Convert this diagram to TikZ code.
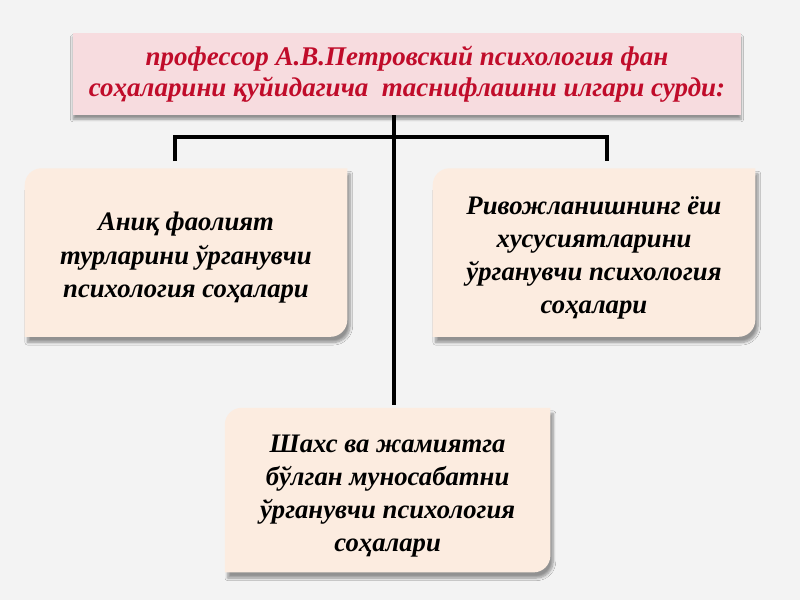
\documentclass[tikz,border=0pt]{standalone}
\usepackage{fontspec}
\setmainfont{Liberation Serif}
\usetikzlibrary{shadows.blur,backgrounds}
\definecolor{bgcol}{RGB}{243,243,243}
\definecolor{titlefill}{RGB}{247,220,223}
\definecolor{titletext}{RGB}{192,12,42}
\definecolor{boxfill}{RGB}{252,236,224}
\tikzset{
  heading/.style={fill=titlefill, minimum width=16.7cm, minimum height=2.05cm,
    text=titletext, align=center, font=\bfseries\itshape\fontsize{19.2}{22}\selectfont,
    blur shadow={shadow xshift=0pt, shadow yshift=-3pt, shadow blur steps=6}},
  branch/.style={minimum width=8.05cm, minimum height=4.2cm, align=center,
    font=\bfseries\itshape\fontsize{19}{23.5}\selectfont},
  link/.style={line width=2.2pt}
}
\begin{document}
\begin{tikzpicture}
            \useasboundingbox (0,0) rectangle (20,-15);
            \node[heading] (T) at (10.175,-1.85) {профессор А.В.Петровский психология фан\\соҳаларини қуйидагича\ \ таснифлашни илгари сурди:};
            % text sits a little below the middle of each box
            \node[branch] (L) at (4.65,-6.44) {Аниқ фаолият\\турларини ўрганувчи\\психология соҳалари};
            \node[branch] (R) at (14.85,-6.44) {Ривожланишнинг ёш\\хусусиятларини\\ўрганувчи психология\\соҳалари};
            \node[branch, minimum width=8.125cm, minimum height=4.1cm] (B) at (9.69,-12.4) {Шахс ва жамиятга\\бўлган муносабатни\\ўрганувчи психология\\соҳалари};

            \coordinate (fork) at (9.85,-3.425);
            \coordinate (Ltip) at (4.375,-4.025); \coordinate (Rtip) at (15.175,-4.025);

            \draw[link] (T.south -| fork) to ([yshift=6pt]fork |- B.north);
            \draw[link] (Ltip) |- (fork) -| (Rtip);

            \begin{scope}[on background layer]
              \fill[bgcol] (0,0) rectangle (20,-15);
              \foreach \b/\d in {L/3.6pt,R/3.6pt,B/4.2pt}
                \fill[boxfill, blur shadow={shadow xshift=2pt, shadow yshift=-4pt, shadow blur steps=8}]
                  ([yshift=\d]\b.south west) -- ([yshift=\d-12pt]\b.north west) arc[start angle=180, end angle=90, radius=12pt]
                  -- ([yshift=\d]\b.north east) -- ([yshift=\d+12pt]\b.south east) arc[start angle=0, end angle=-90, radius=12pt] -- cycle;
            \end{scope}
        \end{tikzpicture}
\end{document}
